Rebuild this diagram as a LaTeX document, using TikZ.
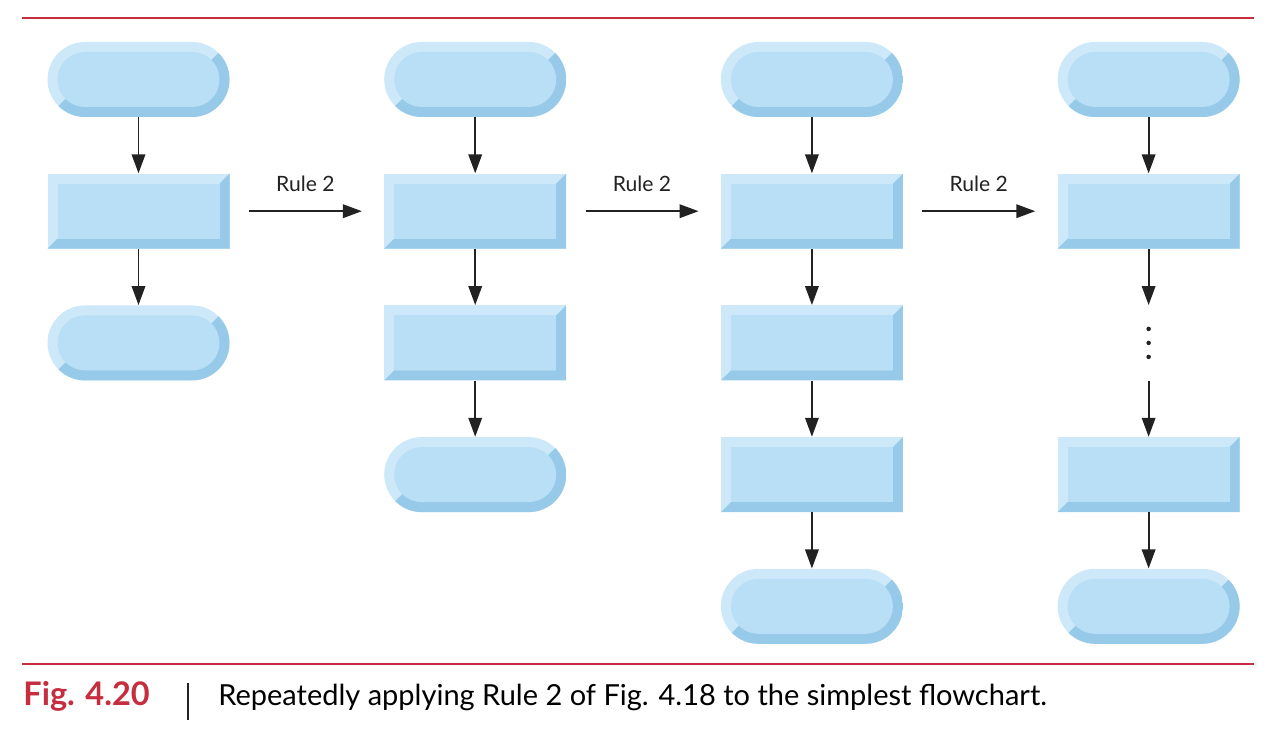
\documentclass[tikz,border=0pt]{standalone}
\usepackage{fontspec}
\setmainfont{Lato}
\usetikzlibrary{arrows.meta, positioning, shapes.misc, calc}

\definecolor{bevlight}{HTML}{CDE9F9}
\definecolor{bevmid}{HTML}{B8DFF6}
\definecolor{bevdark}{HTML}{97CAE8}
\definecolor{arrowgray}{HTML}{222222}
\definecolor{rulered}{HTML}{C62D3E}

\begin{document}
\begin{tikzpicture}[
    node distance=1.12cm and 3.08cm,
    procbox/.style = {rectangle, minimum width=3.64cm, minimum height=1.5cm, inner sep=0pt, fill=bevlight,
        path picture={
            \fill[bevdark] (path picture bounding box.north east) -- (path picture bounding box.south east)
                -- (path picture bounding box.south west) -- ([shift={(0.2cm,0.2cm)}]path picture bounding box.south west)
                -- ([shift={(-0.2cm,0.2cm)}]path picture bounding box.south east)
                -- ([shift={(-0.2cm,-0.2cm)}]path picture bounding box.north east) -- cycle;
            \fill[bevmid] ([shift={(0.2cm,-0.2cm)}]path picture bounding box.north west)
                rectangle ([shift={(-0.2cm,0.2cm)}]path picture bounding box.south east);
        }},
    termbox/.style = {rounded rectangle, minimum width=3.64cm, minimum height=1.5cm, inner sep=0pt, fill=bevlight,
        path picture={
            \fill[bevdark] (path picture bounding box.south west) -- ([shift={(0.75cm,0.75cm)}]path picture bounding box.south west)
                -- ([shift={(-0.75cm,0.75cm)}]path picture bounding box.south east)
                -- (path picture bounding box.north east) -- (path picture bounding box.south east) -- cycle;
            \fill[bevmid, rounded corners=0.55cm] ([shift={(0.2cm,-0.2cm)}]path picture bounding box.north west)
                rectangle ([shift={(-0.2cm,0.2cm)}]path picture bounding box.south east);
        }},
    gapbox/.style = {rectangle, minimum width=3.64cm, minimum height=1.5cm, inner sep=0pt},
    flow/.style = {draw=arrowgray, line width=1.1pt, -{Triangle[length=0.38cm,width=0.27cm]}},
    rulelbl/.style = {above=0.38cm, inner sep=0pt, font=\fontsize{12}{14}\selectfont, text=arrowgray},
    redrule/.style = {draw=rulered, line width=1.2pt}
]
    \fill[white] (0,0) rectangle (25.76,-15.08);
    \useasboundingbox (0,0) rectangle (25.76,-15.08);

    % first chart
    \node [termbox] (t11) at (2.77,-1.59) {};
    \node [procbox, below=of t11] (r12) {};
    \node [termbox, below=of r12] (t13) {};

    % second chart
    \node [termbox, right=of t11] (t21) {};
    \node [procbox, below=of t21] (r22) {};
    \node [procbox, below=of r22] (r23) {};
    \node [termbox, below=of r23] (t24) {};

    % third chart
    \node [termbox, right=of t21] (t31) {};
    \node [procbox, below=of t31] (r32) {};
    \node [procbox, below=of r32] (r33) {};
    \node [procbox, below=of r33] (r34) {};
    \node [termbox, below=of r34] (t35) {};

    % fourth chart
    \node [termbox, right=of t31] (t41) {};
    \node [procbox, below=of t41] (r42) {};
    \node [gapbox, below=of r42] (g43) {};
    \node [procbox, below=of g43] (r44) {};
    \node [termbox, below=of r44] (t45) {};
    \foreach \d in {-0.28,0,0.28}
        \fill[arrowgray] ([yshift=\d cm]g43.center) circle (0.045cm);

    \draw [flow] (t11) -- (r12);
    \draw [flow] (r12) -- (t13);
    \draw [flow] (t21) -- (r22);
    \draw [flow] (r22) -- (r23);
    \draw [flow] (r23) -- (t24);
    \draw [flow] (t31) -- (r32);
    \draw [flow] (r32) -- (r33);
    \draw [flow] (r33) -- (r34);
    \draw [flow] (r34) -- (t35);
    \draw [flow] (t41) -- (r42);
    \draw [flow] (r42) -- (g43);
    \draw [flow] (g43) -- (r44);
    \draw [flow] (r44) -- (t45);

    \draw [flow] ([xshift=0.38cm]r12.east) -- node[rulelbl] {Rule 2} ([xshift=-0.44cm]r22.west);
    \draw [flow] ([xshift=0.38cm]r22.east) -- node[rulelbl] {Rule 2} ([xshift=-0.44cm]r32.west);
    \draw [flow] ([xshift=0.38cm]r32.east) -- node[rulelbl] {Rule 2} ([xshift=-0.44cm]r42.west);

    % caption
    \draw [redrule] (0.44,-0.36) -- (25.08,-0.36);
    \draw [redrule] (0.44,-13.28) -- (25.08,-13.28);
    \node [anchor=base west, inner sep=0pt, text=rulered, font=\fontsize{18.5}{22}\selectfont\bfseries] (fignum) at (0.46,-14.1) {Fig. 4.20};
    \draw [arrowgray, line width=0.8pt] (3.76,-13.66) -- (3.76,-14.40);
    \node [anchor=base west, inner sep=0pt, font=\fontsize{16.5}{20}\selectfont] (figtext) at (4.36,-14.1) {Repeatedly applying Rule 2 of Fig. 4.18 to the simplest flowchart.};
\end{tikzpicture}
\end{document}
